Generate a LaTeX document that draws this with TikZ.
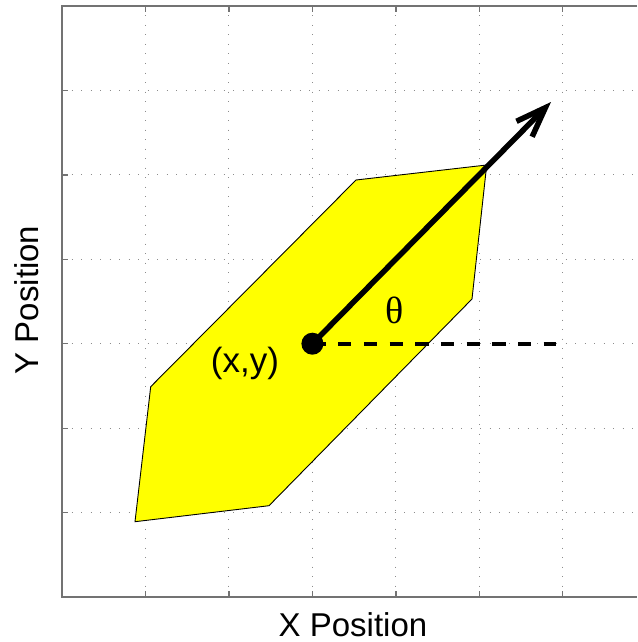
\documentclass[tikz,border=0pt]{standalone}
\usepackage{fontspec}
\setmainfont{Liberation Sans}
\newfontfamily\serifgreek{Liberation Serif}
\usetikzlibrary{arrows.meta}

\begin{document}
\begin{tikzpicture}[x=1pt,y=-1pt,
  axisline/.style={draw=black!55,line width=1.4pt},
  gridline/.style={draw=black!45,line width=1pt,dash pattern=on 1pt off 8.5pt},
  tickmark/.style={draw=black!55,line width=1.4pt},
  hull/.style={draw=black,line width=0.9pt,fill={rgb,255:red,255;green,255;blue,0}},
  heading/.style={-{Straight Barb[length=30pt,width=22pt,line width=5.5pt]},
    line width=5.5pt},
  refline/.style={line width=4pt,dash pattern=on 13.3pt off 12.4pt},
  dot/.style={circle,fill=black,minimum size=22pt,inner sep=0pt},
  axislabel/.style={font=\fontsize{33}{40}\selectfont,inner sep=0pt}]
\useasboundingbox (0,0) rectangle (637,642);
\foreach \gx in {145.5,228.9,312.4,395.8,479.3,562.7}{
  \draw[gridline] (\gx,6) -- (\gx,597);
  \draw[tickmark] (\gx,6) -- ++(0,6) (\gx,597) -- ++(0,-6);}
\foreach \gy in {90.4,174.9,259.3,343.7,428.2,512.6}{
  \draw[gridline] (62,\gy) -- (637,\gy);
  \draw[tickmark] (62,\gy) -- ++(6,0);}
\draw[axisline] (637,6) -- (62,6) -- (62,597) -- (637,597);
\draw[hull] (356,180) -- (486.7,165) -- (472,299) -- (269,505.7)
  -- (135,521.7) -- (150.7,386.7) -- cycle;
\coordinate (pos) at (312.4,343.7);
\coordinate (tip) at (551,102);
\coordinate (refend) at (556,343.7);
\draw[refline] (pos) -- (refend);
\draw[heading] (pos) -- (tip);
\node[dot] (posdot) at (pos) {};
\node[font=\fontsize{35}{42}\selectfont,anchor=base,inner sep=0pt] (poslab)
  at (245,372) {(x,y)};
\node[font=\serifgreek\fontsize{38}{44}\selectfont,anchor=base,inner sep=0pt]
  (anglab) at (395,323) {θ};
\node[axislabel,anchor=base] (xlab) at (353,636) {X Position};
\node[axislabel,anchor=base,rotate=90] (ylab) at (38,300) {Y Position};
\end{tikzpicture}
\end{document}
